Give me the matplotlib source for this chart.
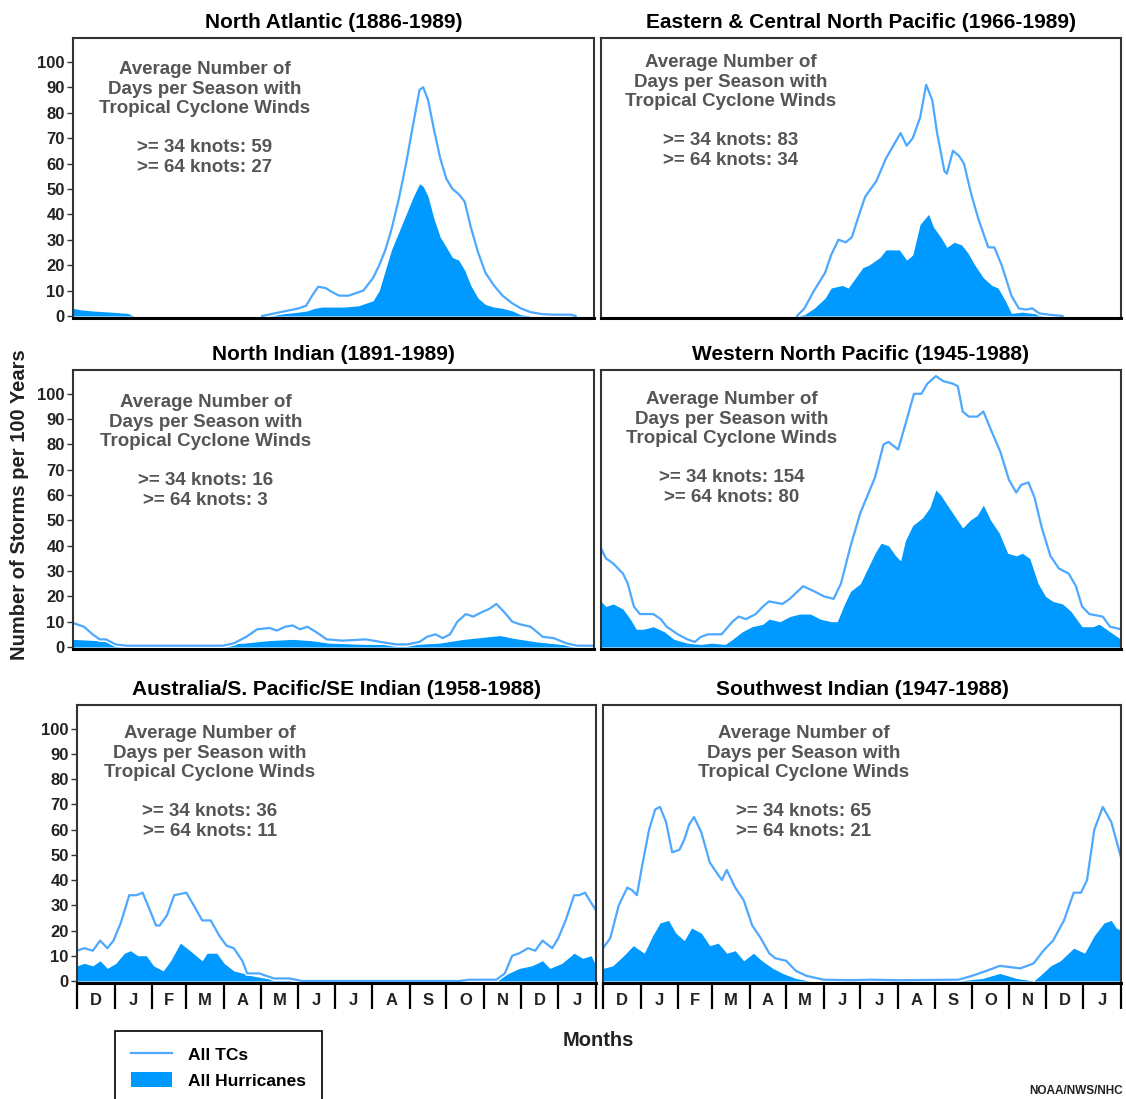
import matplotlib
matplotlib.use("Agg")
import matplotlib.pyplot as plt
import matplotlib.patheffects as pe
from matplotlib.lines import Line2D
from matplotlib.patches import Patch

plt.rcParams['font.family'] = ['Liberation Sans', 'DejaVu Sans']
plt.rcParams['font.weight'] = 'bold'

# --- months on the x axis (days counted from 1 December) ---
months = ['D', 'J', 'F', 'M', 'A', 'M', 'J', 'J', 'A', 'S', 'O', 'N', 'D', 'J']
month_edges = [0, 31, 62, 90, 121, 151, 182, 212, 243, 274, 304, 335, 365, 396, 427]

titles = ['North Atlantic (1886-1989)',
          'Eastern & Central North Pacific (1966-1989)',
          'North Indian (1891-1989)',
          'Western North Pacific (1945-1988)',
          'Australia/S. Pacific/SE Indian (1958-1988)',
          'Southwest Indian (1947-1988)']
days34 = [59, 83, 16, 154, 36, 65]
days64 = [27, 34, 3, 80, 11, 21]

# --- North Atlantic ---
na_tc_day = [155, 165, 175, 185, 191, 196, 201, 207, 212, 218, 226, 232, 238, 246, 251, 256, 261, 267, 273, 279,
             284, 287, 291, 296, 301, 306, 311, 316, 321, 326, 332, 338, 345, 352, 360, 367, 375, 385, 395, 408, 412]
na_tc = [0, 1, 2, 3, 4, 8, 11.5, 11, 9.5, 8, 8, 9, 10, 15, 20, 26, 34, 46, 60, 76,
         89, 90, 85, 73, 62, 54, 50, 48, 45, 35, 25, 17, 12, 8, 5, 3, 1.5, 0.7, 0.5, 0.5, 0]
na_hu_day = [0, 5, 15, 31, 45, 48, 50, 158, 165, 175, 185, 192, 198, 204, 210, 222, 234, 240, 246, 251, 256, 261,
             267, 273, 279, 284, 287, 291, 296, 301, 306, 311, 316, 321, 326, 332, 338, 345, 352, 360, 367, 375, 427]
na_hu = [3, 2.5, 2, 1.5, 1, 0.3, 0, 0, 0.5, 1, 1.5, 2, 3, 3.5, 3.5, 3.5, 4, 5, 6, 10, 18, 26,
         33, 40, 47, 52, 51, 47, 38, 31, 27, 23, 22, 18, 12, 7, 4.5, 3.5, 3, 2, 0.5, 0, 0]

# --- Eastern & Central North Pacific ---
ecp_tc_day = [161, 167, 175, 184, 189, 195, 201, 206, 212, 217, 226, 234, 240, 246, 251, 256, 262, 267, 272,
              276, 282, 284, 289, 294, 298, 304, 310, 318, 323, 329, 337, 343, 349, 354, 360, 368, 379]
ecp_tc = [0, 3, 10, 17, 24, 30, 29, 31, 40, 47, 53, 62, 67, 72, 67, 70, 78, 91, 85,
          72, 57, 56, 65, 63, 60, 48, 38, 27, 27, 20, 8, 3, 2.5, 3, 1, 0.5, 0]
ecp_hu_day = [161, 167, 175, 184, 189, 198, 203, 209, 215, 220, 229, 234, 240, 245, 251, 256, 262, 269, 273,
              279, 284, 290, 296, 301, 307, 314, 321, 326, 332, 337, 346, 354, 365, 379]
ecp_hu = [0, 0.5, 3, 7, 11, 12, 11, 15, 19, 20, 23, 26, 26, 26, 22, 24, 36, 40, 35,
          31, 27, 29, 28, 25, 20, 15, 12, 11, 6, 1, 1.5, 1, 0.5, 0]

# --- North Indian ---
ni_tc_day = [0, 9, 16, 22, 27, 35, 44, 123, 132, 142, 151, 161, 167, 174, 180, 186, 192, 199, 208, 221, 240, 252,
             265, 274, 284, 290, 297, 303, 309, 315, 322, 328, 334, 341, 347, 353, 360, 366, 375, 385, 394, 404, 413, 427]
ni_tc = [9.5, 8, 5, 3, 3, 1, 0.5, 0.5, 1.5, 4, 7, 7.5, 6.5, 8, 8.5, 7, 8, 6, 3, 2.5, 3, 2,
         1, 1, 2, 4, 5, 3.5, 5, 10, 13, 12, 13.5, 15, 17, 14, 10, 9, 8, 4, 3.5, 1.5, 0.5, 0.5]
ni_hu_day = [0, 20, 40, 60, 120, 140, 160, 180, 195, 210, 240, 280, 300, 320, 340, 350, 360, 380, 400, 427]
ni_hu = [3, 2.5, 1.5, 1, 1, 1.5, 2.5, 3, 2.5, 1.5, 1, 1, 1.5, 3, 4, 4.5, 3.5, 2, 1, 0.8]

# --- Western North Pacific ---
wnp_tc_day = [0, 4, 10, 18, 22, 27, 32, 43, 49, 54, 63, 71, 77, 82, 88, 99, 108, 113, 119, 127, 133, 138, 149,
              155, 166, 175, 183, 191, 197, 205, 213, 219, 225, 232, 236, 244, 250, 257, 263, 268, 275, 281, 289,
              293, 297, 302, 309, 314, 320, 328, 335, 341, 345, 351, 356, 362, 369, 376, 384, 390, 395, 401, 412,
              418, 427]
wnp_tc = [39, 35, 33, 29, 25, 16, 13, 13, 11, 8, 5, 3, 2, 4, 5, 5, 10, 12, 11, 13, 16, 18, 17,
          19, 24, 22, 20, 19, 25, 40, 53, 60, 67, 80, 81, 78, 88, 100, 100, 104, 107, 105, 104,
          103, 93, 91, 91, 93, 86, 77, 66, 61, 64, 65, 59, 47, 36, 31, 29, 24, 16, 13, 12,
          8, 7]
wnp_hu_day = [0, 4, 10, 18, 24, 29, 35, 43, 52, 60, 71, 82, 91, 102, 108, 116, 124, 133, 138, 147, 155, 163,
              172, 180, 189, 194, 200, 205, 213, 219, 225, 230, 236, 242, 246, 250, 256, 264, 270, 275, 279, 283,
              290, 297, 303, 309, 314, 320, 327, 334, 341, 346, 352, 359, 365, 371, 379, 386, 395, 404, 409, 418, 427]
wnp_hu = [18, 16, 17, 15, 11, 7, 7, 8, 6, 3, 1.5, 1, 1.5, 1, 3, 6, 8, 9, 11, 10, 12, 13,
          13, 11, 10, 10, 17, 22, 25, 31, 37, 41, 40, 36, 34, 42, 48, 51, 55, 62, 60, 57,
          52, 47, 50, 52, 56, 50, 45, 37, 36, 37, 35, 25, 20, 18, 17, 14, 8, 8, 9, 6, 3]

# --- Australia / S. Pacific / SE Indian ---
aus_tc_day = [0, 6, 13, 19, 25, 30, 36, 43, 49, 54, 60, 65, 68, 74, 80, 90, 96, 103, 110, 117, 123, 129, 136,
              140, 150, 156, 162, 175, 185, 314, 323, 345, 352, 358, 364, 371, 377, 383, 391, 396, 402, 409, 413,
              418, 423, 427]
aus_tc = [12, 13, 12, 16, 13, 16, 23, 34, 34, 35, 28, 22, 22, 26, 34, 35, 30, 24, 24, 18, 14, 13, 8,
          3, 3, 2, 1, 1, 0, 0, 0.5, 0.5, 3, 10, 11, 13, 12, 16, 13, 17, 24, 34, 34,
          35, 31, 28]
aus_hu_day = [0, 6, 13, 19, 25, 32, 39, 44, 50, 57, 63, 71, 77, 85, 93, 103, 107, 115, 121, 129, 137, 144,
              156, 175, 185, 260, 263, 274, 276, 314, 320, 330, 345, 355, 364, 374, 383, 389, 399, 409, 416, 423, 427]
aus_hu = [6, 7, 6, 8, 5, 7, 11, 12, 10, 10, 6, 4, 8, 15, 12, 8, 11, 11, 7, 4, 3, 2,
          1, 0.5, 0, 0, 0.5, 0.5, 0, 0, 1, 0.5, 0.3, 3, 5, 6, 8, 5, 7, 11, 9, 10, 6]

# --- Southwest Indian ---
swi_tc_day = [0, 6, 13, 20, 24, 28, 32, 38, 43, 47, 52, 57, 63, 67, 71, 75, 81, 88, 95, 98, 102, 109, 116, 123,
              130, 137, 142, 151, 159, 168, 182, 204, 221, 243, 293, 304, 316, 327, 344, 355, 363, 371, 380, 388,
              394, 399, 405, 412, 419, 427]
swi_tc = [13, 17, 30, 37, 36, 34, 45, 60, 68, 69, 63, 51, 52, 56, 62, 65, 59, 47, 42, 40, 44, 37, 32, 22,
          17, 11, 9, 8, 4, 2, 0.5, 0.3, 0.5, 0.3, 0.5, 2, 4, 6, 5, 7, 12, 16, 24, 35,
          35, 40, 60, 69, 63, 49]
swi_hu_day = [0, 8, 17, 25, 34, 41, 47, 54, 60, 67, 73, 81, 88, 95, 102, 109, 116, 124, 131, 140, 148, 159, 170,
              293, 313, 327, 341, 355, 360, 369, 377, 388, 397, 405, 413, 419, 423, 427]
swi_hu = [5, 6, 10, 14, 11, 18, 23, 24, 19, 16, 21, 19, 14, 15, 11, 12, 8, 11, 8, 5, 3, 1, 0,
          0, 1, 3, 1, 0, 2, 6, 8, 13, 11, 18, 23, 24, 21, 20]

series = [(na_tc_day, na_tc, na_hu_day, na_hu),
          (ecp_tc_day, ecp_tc, ecp_hu_day, ecp_hu),
          (ni_tc_day, ni_tc, ni_hu_day, ni_hu),
          (wnp_tc_day, wnp_tc, wnp_hu_day, wnp_hu),
          (aus_tc_day, aus_tc, aus_hu_day, aus_hu),
          (swi_tc_day, swi_tc, swi_hu_day, swi_hu)]

fill_c = '#0099ff'
line_c = '#4da8ff'
W, H = 1126, 1099

# axes boxes in pixels: left, top, right, bottom
boxes = [(73, 38, 594, 318), (601, 38, 1121, 318),
         (73, 370, 594, 649), (601, 370, 1121, 649),
         (77, 705, 596, 983), (603, 705, 1121, 983)]
# where the note text sits (axes fraction: centre x, top y)
note_pos = [(0.253, 0.918), (0.25, 0.943), (0.255, 0.914),
            (0.252, 0.925), (0.256, 0.928), (0.388, 0.928)]

fig = plt.figure(figsize=(W / 100, H / 100), dpi=100)

for i, (l, t, r, b) in enumerate(boxes):
    ax = fig.add_axes([l / W, 1 - b / H, (r - l) / W, (b - t) / H])
    tc_day, tc, hu_day, hu = series[i]
    ax.fill_between(hu_day, 0, hu, color=fill_c, lw=0)
    ax.plot(tc_day, tc, color=line_c, lw=1.6,
            path_effects=[pe.Stroke(linewidth=3.6, foreground='white'), pe.Normal()])
    ax.set_xlim(0, 427)
    ax.set_ylim(-0.8, 109.4)
    ax.set_title(titles[i], fontsize=15, fontweight='bold', pad=7)
    note = ("Average Number of\nDays per Season with\nTropical Cyclone Winds\n\n"
            ">= 34 knots: %d\n>= 64 knots: %d" % (days34[i], days64[i]))
    ax.text(note_pos[i][0], note_pos[i][1], note, transform=ax.transAxes,
            ha='center', va='top', multialignment='center', fontsize=13.5,
            color='#555555', linespacing=1.2)

    for s in ['left', 'top', 'right']:
        ax.spines[s].set_color('#333333')
        ax.spines[s].set_linewidth(1.5)
    ax.spines['bottom'].set_color('black')
    ax.spines['bottom'].set_linewidth(2.2)

    if i % 2 == 0:
        ax.set_yticks(range(0, 101, 10))
        ax.tick_params(axis='y', length=4, width=1, labelsize=12, pad=2,
                       colors='#333333', labelcolor='#222222')
    else:
        ax.set_yticks([])

    if i >= 4:
        ax.set_xticks(month_edges)
        ax.set_xticklabels([])
        ax.tick_params(axis='x', which='major', direction='out', length=19,
                       width=1.6, color='black')
        centers = [(month_edges[k] + month_edges[k + 1]) / 2 for k in range(len(months))]
        ax.set_xticks(centers, minor=True)
        ax.set_xticklabels(months, minor=True)
        ax.tick_params(axis='x', which='minor', length=0, labelsize=12, pad=7,
                       labelcolor='#222222')
    else:
        ax.set_xticks([])

fig.text(20 / W, 1 - 505 / H, 'Number of Storms per 100 Years', rotation=90,
         ha='center', va='center', fontsize=14.5, fontweight='bold', color='#222222')
fig.text(598 / W, 1 - 1040 / H, 'Months', ha='center', va='center',
         fontsize=14.5, fontweight='bold', color='#222222')
fig.text(1123 / W, 1 - 1097 / H, 'NOAA/NWS/NHC', ha='right', va='bottom',
         fontsize=8.5, fontweight='bold', color='#222222')

handles = [Line2D([], [], color=line_c, lw=1.6), Patch(facecolor=fill_c, lw=0)]
leg = fig.legend(handles, ['All TCs', 'All Hurricanes'], loc='upper left',
                 bbox_to_anchor=(115 / W, 1 - 1031 / H), borderaxespad=0,
                 frameon=True, fancybox=False, edgecolor='black', framealpha=1,
                 prop={'size': 12.5, 'weight': 'bold'}, handlelength=2.4,
                 handleheight=0.9, handletextpad=0.9, borderpad=0.9, labelspacing=0.55)
leg.get_frame().set_linewidth(1.2)

fig.savefig('out.png', dpi=100)
